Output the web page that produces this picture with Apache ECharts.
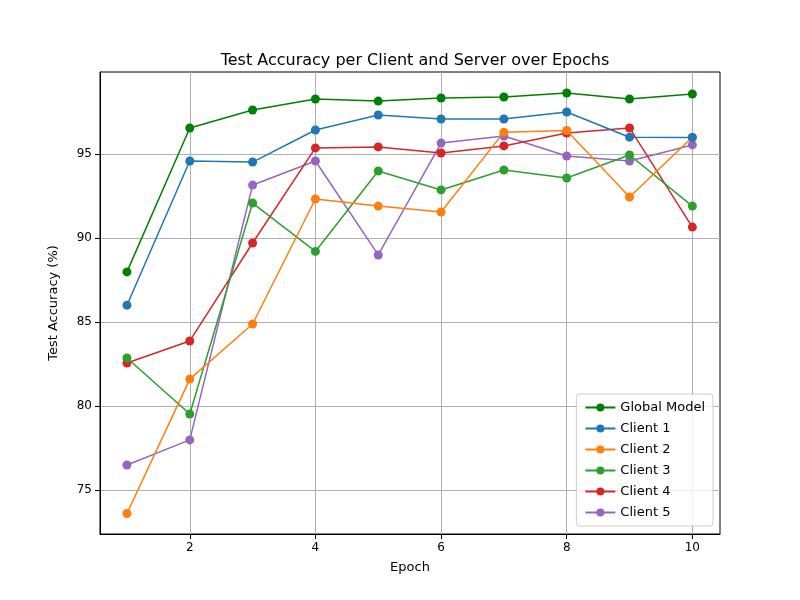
<!DOCTYPE html>
<html>
<head>
<meta charset="utf-8">
<script src="https://cdn.jsdelivr.net/npm/echarts@6/dist/echarts.min.js"></script>
<style>body{margin:0;background:#fff}#c{width:800px;height:600px}</style>
</head>
<body>
<div id="c"></div>
<script>
var epochs = [1, 2, 3, 4, 5, 6, 7, 8, 9, 10];
var globalModel = [87.98, 96.55, 97.62, 98.27, 98.15, 98.33, 98.39, 98.63, 98.27, 98.57];
var client1 = [86.0, 94.58, 94.52, 96.43, 97.32, 97.08, 97.08, 97.5, 96.0, 95.98];
var client2 = [73.6, 81.6, 84.88, 92.32, 91.9, 91.55, 96.3, 96.4, 92.44, 96.0];
var client3 = [82.86, 79.52, 92.08, 89.2, 93.99, 92.86, 94.05, 93.57, 94.94, 91.9];
var client4 = [82.56, 83.87, 89.7, 95.36, 95.42, 95.06, 95.48, 96.25, 96.55, 90.65];
var client5 = [76.49, 77.98, 93.15, 94.58, 88.99, 95.65, 96.07, 94.88, 94.58, 95.54];
var xTicks = [2, 4, 6, 8, 10];
var yTicks = [75, 80, 85, 90, 95];

var names = ['Global Model', 'Client 1', 'Client 2', 'Client 3', 'Client 4', 'Client 5'];
var colors = ['#008000', '#1f77b4', '#ff7f0e', '#2ca02c', '#d62728', '#9467bd'];
var data = [globalModel, client1, client2, client3, client4, client5];

function pairs(vals) {
  return epochs.map(function (e, i) { return [e, vals[i]]; });
}

var font = 'DejaVu Sans';
var series = [];
for (var i = 0; i < names.length; i++) {
  series.push({
    name: names[i], type: 'line', data: pairs(data[i]),
    symbol: 'circle', symbolSize: 9,
    lineStyle: { width: 1.5, color: colors[i] },
    itemStyle: { color: colors[i] },
    z: 10 - i
  });
}

var chart = echarts.init(document.getElementById('c'));
chart.setOption({
  animation: false,
  color: colors,
  textStyle: { fontFamily: font },
  title: {
    text: 'Test Accuracy per Client and Server over Epochs',
    left: 410, top: 48, textAlign: 'center',
    textStyle: { fontFamily: font, fontSize: 16, fontWeight: 'normal', color: '#000' }
  },
  grid: { left: 100, right: 80, top: 72, bottom: 66, show: true, borderColor: '#000', borderWidth: 1 },
  xAxis: {
    type: 'value', min: 0.571, max: 10.44,
    name: 'Epoch', nameLocation: 'middle', nameGap: 27,
    nameTextStyle: { fontFamily: font, fontSize: 13, color: '#000' },
    axisLine: { onZero: false, lineStyle: { color: '#000' } },
    axisTick: { customValues: xTicks, length: 5, lineStyle: { color: '#000' } },
    axisLabel: { customValues: xTicks, fontFamily: font, fontSize: 12, color: '#000' },
    splitLine: { show: true, lineStyle: { color: '#b0b0b0', width: 1 } }
  },
  yAxis: {
    type: 'value', min: 72.38, max: 99.88,
    name: 'Test Accuracy (%)', nameLocation: 'middle', nameGap: 40,
    nameTextStyle: { fontFamily: font, fontSize: 13, color: '#000' },
    axisLine: { show: true, onZero: false, lineStyle: { color: '#000' } },
    axisTick: { show: true, customValues: yTicks, length: 5, lineStyle: { color: '#000' } },
    axisLabel: { customValues: yTicks, fontFamily: font, fontSize: 12, color: '#000' },
    splitLine: { show: true, lineStyle: { color: '#b0b0b0', width: 1 } }
  },
  legend: {
    orient: 'vertical', right: 87, bottom: 74,
    data: names,
    backgroundColor: 'rgba(255,255,255,0.8)',
    borderColor: '#ccc', borderWidth: 1, borderRadius: 3,
    padding: [7, 8, 7, 8], itemGap: 8, itemWidth: 30, itemHeight: 10,
    textStyle: { fontFamily: font, fontSize: 13, color: '#000' }
  },
  series: series
});
</script>
</body>
</html>
